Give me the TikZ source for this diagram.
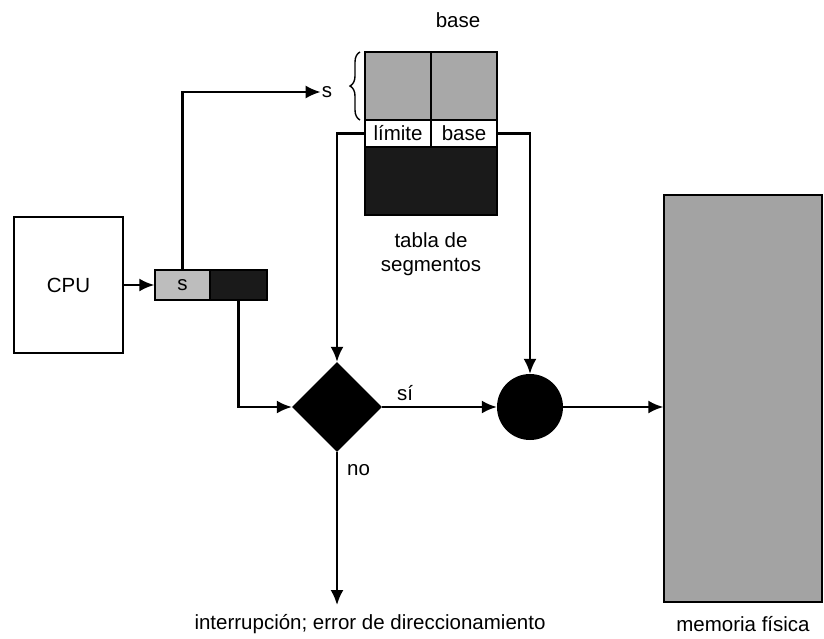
\documentclass[tikz,border=0pt]{standalone}
\usepackage{fontspec}
\setmainfont{Liberation Sans}
\usetikzlibrary{arrows.meta,positioning,shapes.geometric,decorations.pathreplacing}
\definecolor{cellgray}{HTML}{A8A8A8}
\definecolor{regsgray}{HTML}{BDBDBD}
\definecolor{memgray}{HTML}{A3A3A3}
\definecolor{darkfill}{HTML}{1A1A1A}
\tikzset{
  box/.style={draw=black, line width=1.4pt, inner sep=0pt},
  flow/.style={line width=2.2pt, -{Latex[length=15pt,width=13pt]}},
  lbl/.style={inner sep=1pt, font=\fontsize{20.5}{24}\selectfont}
}

\begin{document}
\begin{tikzpicture}[x=1pt,y=-1pt]
\useasboundingbox (0,0) rectangle (824,638);
\node[box, minimum width=109pt, minimum height=136pt, lbl] (cpu) at (68.5,285) {CPU};
\node[box, fill=regsgray, minimum width=55pt, minimum height=30pt, lbl] (sreg) at (182.5,285) {s};
\node[box, fill=darkfill, minimum width=57pt, minimum height=30pt] (dreg) at (238.5,285) {};
\node[box, fill=cellgray, minimum width=66pt, minimum height=68pt] (limtop) at (398,86) {};
\node[box, fill=cellgray, minimum width=66pt, minimum height=68pt] (bastop) at (464,86) {};
\node[box, fill=white, minimum width=66pt, minimum height=27pt, lbl] (lim) at (398,133.5) {límite};
\node[box, fill=white, minimum width=66pt, minimum height=27pt, lbl] (bas) at (464,133.5) {base};
\node[box, fill=darkfill, minimum width=132pt, minimum height=68pt] (segdark) at (431,181) {};
\node[lbl] (segtitle) at (458,20) {base};
\node[lbl, align=center] (segname) at (431,254) {tabla de\\segmentos};
\node[lbl] (sidx) at (327,92) {s};
\draw[line width=1.4pt, decorate, decoration={brace, amplitude=10pt}]
  (360,120) -- (360,52);
\node[diamond, fill=black, minimum width=90pt, minimum height=90pt, inner sep=0pt] (chk) at (337,407) {};
\node[circle, fill=black, minimum size=66pt, inner sep=0pt] (add) at (530,407) {};
\node[box, fill=memgray, minimum width=158pt, minimum height=407pt] (mem) at (743,398.5) {};
\coordinate (trap) at (337,605);
\node[lbl] (trapname) at (370,624) {interrupción; error de direccionamiento};
\node[lbl] (memname) at (743,624) {memoria física};

\draw[flow] (cpu.east) -- (sreg.west);
\draw[flow] (sreg.north) |- (sidx.west);
\draw[flow] (lim.west) -| (chk.north);
\draw[flow] (bas.east) -| (add.north);
\draw[flow] (dreg.south) |- (chk.west);
\draw[flow] (chk.east) -- node[lbl, above=4pt, pos=0.2] {sí} (add.west);
\draw[flow] (add.east) -- (add.east -| mem.west);
\draw[flow] (chk.south) -- node[lbl, right=8pt, pos=0.12] {no} (trap);
\end{tikzpicture}
\end{document}
